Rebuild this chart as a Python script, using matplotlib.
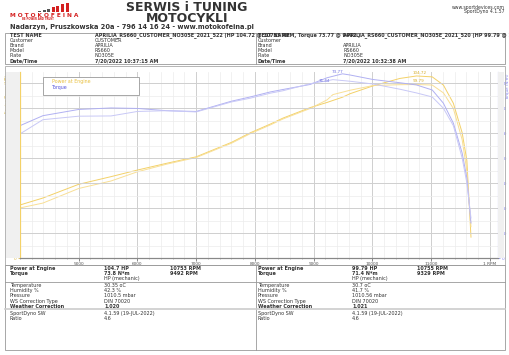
import matplotlib.pyplot as plt
from matplotlib.patches import Rectangle
from matplotlib.ticker import MultipleLocator, FixedLocator

W, H = 510, 355

# --- data ---
rpm_a = [4000, 4390, 5000, 5550, 6000, 6500, 7000, 7600, 7920, 8260, 8480, 8940, 9230,
         9492, 9620, 10010, 10470, 10753, 11020, 11210, 11380, 11530, 11610, 11680]
power_a = [30.5, 34.5, 42.4, 46.8, 50.6, 54.5, 58.2, 66.5, 72.0, 77.0, 80.5, 86.5, 89.5,
           92.5, 94.5, 99.0, 103.3, 104.72, 104.2, 99.5, 89.0, 72.0, 56.0, 12.0]
torque_a = [53.0, 57.0, 59.5, 60.1, 59.9, 59.0, 58.7, 62.8, 64.5, 66.5, 67.5, 69.5, 72.2,
            73.77, 73.3, 71.5, 70.2, 69.3, 67.3, 62.0, 54.0, 42.0, 32.0, 14.0]

rpm_b = [4000, 4390, 5000, 5550, 6000, 6500, 7000, 7600, 7920, 8260, 8480, 8940, 9230,
         9329, 9620, 10010, 10470, 10755, 11020, 11210, 11380, 11530, 11610, 11680]
power_b = [28.8, 31.6, 40.0, 44.3, 49.6, 54.0, 57.8, 66.0, 71.5, 76.5, 80.0, 86.0, 91.0,
           94.0, 96.5, 99.2, 99.7, 99.79, 99.5, 95.0, 86.0, 68.0, 50.0, 18.0]
torque_b = [49.7, 55.4, 56.8, 56.9, 58.7, 59.0, 58.5, 62.5, 64.0, 66.0, 67.0, 69.8, 71.0,
            71.44, 70.8, 69.7, 67.6, 66.1, 64.5, 60.0, 53.0, 40.0, 30.0, 16.0]

x_ticks = [5000, 6000, 7000, 8000, 9000, 10000, 11000, 12000]
x_labels = ['5000', '6000', '7000', '8000', '9000', '10000', '11000', '1 RPM']

left_info = {
    'name': 'APRILIA_RS660_CUSTOMER_NO305E_2021_522 (HP 104.72 @ 10753 RPM, Torque 73.77 @ 9492 )',
    'customer': 'CUSTOMER', 'date': '7/20/2022 10:37:15 AM',
    'hp': '104.7 HP', 'hp_rpm': '10753 RPM', 'tq': '73.8 N*m', 'tq_rpm': '9492 RPM',
    'temp': '30.35 oC', 'hum': '42.3 %', 'pres': '1010.5 mbar', 'wc': '1.020',
}
right_info = {
    'name': 'APRILIA_RS660_CUSTOMER_NO305E_2021_520 (HP 99.79 @ 10755, Torque 71.44 @ 9329 )',
    'customer': '', 'date': '7/20/2022 10:32:38 AM',
    'hp': '99.79 HP', 'hp_rpm': '10755 RPM', 'tq': '71.4 N*m', 'tq_rpm': '9329 RPM',
    'temp': '30.7 oC', 'hum': '41.7 %', 'pres': '1010.56 mbar', 'wc': '1.021',
}

YEL1, YEL2 = '#f3d168', '#f8df96'
BLU1, BLU2 = '#b0b0f2', '#c8c8f6'

fig = plt.figure(figsize=(W / 100, H / 100), dpi=100)


def fx(x):
    return x / W


def fy(y):
    return 1 - y / H


def txt(x, y, s, size=3.5, bold=False, color='#333333', ha='left', **kw):
    fig.text(fx(x), fy(y), s, fontsize=size, fontweight='bold' if bold else 'normal',
             color=color, ha=ha, va='center', family='DejaVu Sans', **kw)


def hline(y, x0=5, x1=505, color='#999999', lw=0.6):
    fig.add_artist(plt.Line2D([fx(x0), fx(x1)], [fy(y), fy(y)], color=color, lw=lw))


def box(x0, y0, x1, y1, ec='#999999', fc='none', lw=0.6):
    fig.add_artist(Rectangle((fx(x0), fy(y1)), fx(x1) - fx(x0), fy(y0) - fy(y1),
                             ec=ec, fc=fc, lw=lw, transform=fig.transFigure))


# --- header ---
bar_h = [1.5, 2.5, 3.5, 5, 6.5, 8, 9]
for i, h in enumerate(bar_h):
    box(38 + i * 4.6, 12 - h, 41 + i * 4.6, 12, ec='none',
        fc='#555555' if i < 3 else '#d42020')
txt(10, 15.5, 'M O T O K O F E I N A', size=4.2, bold=True, color='#d42020')
txt(22, 19.5, 'BE POWER AND TRUST', size=1.8, bold=True, color='#d42020')
txt(187, 7.5, 'SERWIS i TUNING', size=9, bold=True, ha='center')
txt(187, 18, 'MOTOCYKLI', size=9, bold=True, ha='center')
txt(10, 27.5, 'Nadarzyn, Pruszkowska 20a - 796 14 16 24 - www.motokofeina.pl',
    size=4.8, bold=True)
txt(505, 7, 'www.sportdevices.com', size=3.3, ha='right')
txt(505, 12, 'SportDyno 4.1.57', size=3.3, ha='right')

# --- top info table ---
box(5, 33, 505, 64)
fig.add_artist(plt.Line2D([fx(256), fx(256)], [fy(33), fy(64)], color='#999999', lw=0.6))
rows_y = [35.5, 40.5, 45.5, 50.5, 55.5, 61]
for x0, xv, info in [(10, 95, left_info), (258, 343, right_info)]:
    labels = ['TEST NAME', 'Customer', 'Brand', 'Model', 'Plate', 'Date/Time']
    vals = [info['name'], info['customer'], 'APRILIA', 'RS660', 'NO305E', info['date']]
    for i, (lab, v) in enumerate(zip(labels, vals)):
        b = i in (0, 5)
        txt(x0, rows_y[i], lab, bold=b)
        txt(xv, rows_y[i], v, bold=b)

# --- chart frame ---
box(5, 66, 505, 265, ec='#aaaaaa')
box(6, 72, 20, 258, ec='none', fc='#f0f0f0')
box(498, 72, 504, 258, ec='none', fc='#f0f0f0')

ax = fig.add_axes([fx(20), fy(258), fx(498) - fx(20), fy(72) - fy(258)])
ax2 = ax.twinx()

ax.set_xlim(4000, 12140)
ax.set_ylim(0, 107)
ax2.set_ylim(0, 74.5)

ax.xaxis.set_major_locator(FixedLocator(x_ticks))
ax.set_xticklabels(x_labels)
ax.xaxis.set_minor_locator(MultipleLocator(200))
ax.yaxis.set_major_locator(MultipleLocator(15))
ax2.yaxis.set_major_locator(MultipleLocator(10))
ax2.yaxis.set_minor_locator(MultipleLocator(5))

ax.grid(which='major', axis='x', color='#cfcfcf', lw=0.7)
ax.grid(which='minor', axis='x', color='#ececec', lw=0.5)
ax2.grid(which='major', axis='y', color='#cfcfcf', lw=0.7)
ax2.grid(which='minor', axis='y', color='#ececec', lw=0.5)
ax.set_axisbelow(True)

for a in (ax, ax2):
    a.spines['top'].set_visible(False)
ax.spines['right'].set_visible(False)
ax2.spines['left'].set_color(YEL1)
ax2.spines['right'].set_color('#8c8cee')
ax2.spines['bottom'].set_color('#888888')
ax.spines['left'].set_color(YEL1)
ax.spines['bottom'].set_color('#888888')

ax.tick_params(axis='x', labelsize=3.1, length=2, width=0.5, pad=1, colors='#555555')
ax.tick_params(axis='x', which='minor', length=1, width=0.4, colors='#888888')
ax.tick_params(axis='y', labelsize=3.1, length=1.5, width=0.5, pad=0.8, colors='#d8b440')
ax2.tick_params(axis='y', labelsize=3.1, length=1.5, width=0.5, pad=1, colors='#8080ee')
ax2.tick_params(axis='y', which='minor', length=0)

ax.set_ylabel('Engine Power (HP)', fontsize=3.0, color='#d8b440', labelpad=1)
ax.yaxis.set_label_coords(-0.024, 0.88)
ax2.set_ylabel('Torque (N·m)', fontsize=3.0, color='#8080ee', labelpad=1)
ax2.yaxis.set_label_coords(1.016, 0.92)

ax.plot(rpm_a, power_a, color=YEL1, lw=0.7, label='Power at Engine')
ax.plot(rpm_b, power_b, color=YEL2, lw=0.7)
ax2.plot(rpm_a, torque_a, color=BLU1, lw=0.7, label='Torque')
ax2.plot(rpm_b, torque_b, color=BLU2, lw=0.7)

ax.annotate('104.72', (rpm_a[17], power_a[17]), xytext=(-3, 1.5),
            textcoords='offset points', fontsize=3, color='#d8b030')
ax.annotate('99.79', (rpm_b[17], power_b[17]), xytext=(-3, 1.5),
            textcoords='offset points', fontsize=3, color='#d8b030')
ax2.annotate('73.77', (rpm_a[13], torque_a[13]), xytext=(-8, 0.5),
             textcoords='offset points', fontsize=3, color='#7070e0')
ax2.annotate('71.44', (rpm_b[13], torque_b[13]), xytext=(-10, -1.5),
             textcoords='offset points', fontsize=3, color='#7070e0')

# legend box
box(43, 77, 139, 95, ec='#999999', fc='white', lw=0.6)
txt(52, 81.5, 'Power at Engine', size=3.4, color='#e8c040')
txt(52, 87, 'Torque', size=3.4, color='#5555dd')

# --- bottom info table ---
box(5, 265, 505, 350)
fig.add_artist(plt.Line2D([fx(256), fx(256)], [fy(265), fy(350)], color='#999999', lw=0.6))
hline(282)
hline(309, color='#cccccc', lw=1.2)
for x0, xv, xr, info in [(10, 104, 170, left_info), (258, 352, 417, right_info)]:
    txt(x0, 268.5, 'Power at Engine', bold=True)
    txt(xv, 268.5, info['hp'], bold=True)
    txt(xr, 268.5, info['hp_rpm'], bold=True)
    txt(x0, 273.5, 'Torque', bold=True)
    txt(xv, 273.5, info['tq'], bold=True)
    txt(xr, 273.5, info['tq_rpm'], bold=True)
    txt(xv, 278.5, 'HP (mechanic)')
    labels = ['Temperature', 'Humidity %', 'Pressure', 'WS Correction Type', 'Weather Correction']
    vals = [info['temp'], info['hum'], info['pres'], 'DIN 70020', info['wc']]
    for i, (lab, v) in enumerate(zip(labels, vals)):
        b = i == 4
        y = 285.5 + i * 5.2
        txt(x0, y, lab, bold=b)
        txt(xv, y, v, bold=b)
    txt(x0, 313.5, 'SportDyno SW')
    txt(xv, 313.5, '4.1.59 (19-JUL-2022)')
    txt(x0, 318.5, 'Ratio')
    txt(xv, 318.5, '4.6')

plt.savefig('out.png', dpi=100)
plt.close()
